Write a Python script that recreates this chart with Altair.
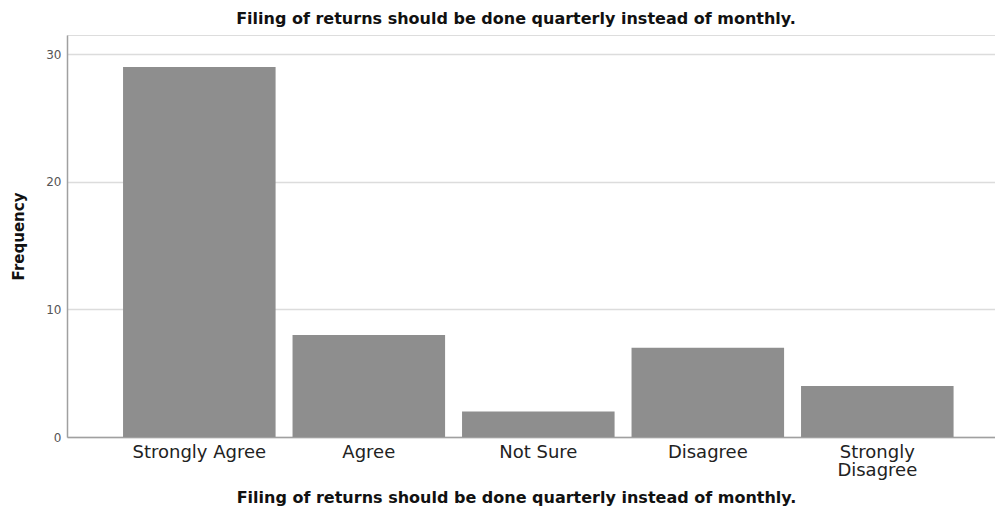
import altair as alt
import pandas as pd

categories = ["Strongly Agree", "Agree", "Not Sure", "Disagree", "Strongly Disagree"]
frequencies = [29, 8, 2, 7, 4]
y_ticks = [0, 10, 20, 30]
title_text = "Filing of returns should be done quarterly instead of monthly."

df = pd.DataFrame({"category": categories, "frequency": frequencies})

FONT = "DejaVu Sans"

chart = (
    alt.Chart(df)
    .mark_bar(color="#8e8e8e")
    .encode(
        x=alt.X(
            "category:N",
            sort=categories,
            scale=alt.Scale(paddingInner=0.1, paddingOuter=0.2875, align=0.575),
            axis=alt.Axis(
                title=title_text,
                labelAngle=0,
                labelFont=FONT,
                labelFontSize=18,
                labelColor="#222222",
                labelPadding=6,
                labelLineHeight=18,
                labelExpr="datum.label == 'Strongly Disagree' ? ['Strongly', 'Disagree'] : datum.label",
                ticks=False,
                domainColor="#a0a0a0",
                domainWidth=1.5,
                grid=False,
                titleFont=FONT,
                titleFontSize=16,
                titleFontWeight="bold",
                titleColor="#111111",
                titleX=449,
                titleY=65,
                titleBaseline="alphabetic",
            ),
        ),
        y=alt.Y(
            "frequency:Q",
            scale=alt.Scale(domain=[0, 31.5], nice=False),
            axis=alt.Axis(
                values=y_ticks,
                title="Frequency",
                labelFont=FONT,
                labelFontSize=12,
                labelColor="#555555",
                labelPadding=6,
                ticks=False,
                domainColor="#a0a0a0",
                domainWidth=1.5,
                grid=True,
                gridColor="#dcdcdc",
                gridWidth=1.5,
                titleFont=FONT,
                titleFontSize=15,
                titleFontWeight="bold",
                titleColor="#111111",
                titleX=-49,
                titleBaseline="middle",
            ),
        ),
    )
    .properties(
        width=928,
        height=402,
        title=alt.TitleParams(
            text=title_text,
            font=FONT,
            fontSize=16,
            fontWeight="bold",
            color="#111111",
            anchor="middle",
            dx=-15,
            offset=8,
        ),
        autosize=alt.AutoSizeParams(type="none"),
        padding={"left": 59, "top": 27, "right": 0, "bottom": 69},
    )
    .configure_view(stroke=None)
    .configure(background="white")
)

chart.save("out.html", embed_options={"renderer": "svg", "actions": False})
